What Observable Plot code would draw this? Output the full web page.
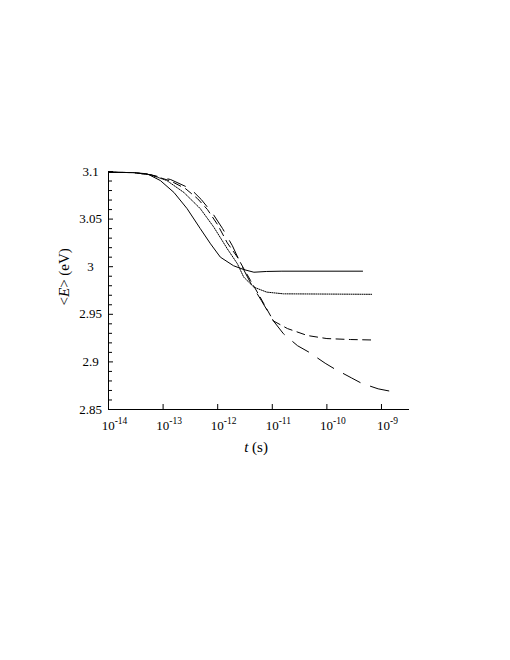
<!DOCTYPE html>
<html><head><meta charset="utf-8">
<script src="https://cdn.jsdelivr.net/npm/d3@7"></script>
<script src="https://cdn.jsdelivr.net/npm/@observablehq/plot@0.6"></script>
<style>body{margin:0;background:#fff;} svg{display:block;} svg text{font-family:'Liberation Serif','Times New Roman',serif;}</style>
</head><body><div id="chart"></div>
<script>
// ---- data (t in seconds, <E> in eV) ----
const solidT = [1e-14, 2.9e-14, 5.1e-14, 8.9e-14, 1.58e-13, 2.75e-13, 4.8e-13, 7.4e-13, 1.12e-12, 1.95e-12, 3.0e-12, 4.6e-12, 7.9e-12, 1.5e-11, 4.5e-10];
const solidE = [3.0993, 3.0988, 3.0976, 3.0905, 3.0780, 3.0610, 3.0400, 3.0240, 3.0100, 3.0010, 2.9970, 2.9942, 2.9950, 2.9953, 2.9953];

const dottedT = [1e-14, 2.9e-14, 5.9e-14, 1.17e-13, 2.4e-13, 4.8e-13, 8.5e-13, 1.5e-12, 2.3e-12, 3.0e-12, 4.6e-12, 7.9e-12, 1.6e-11, 6.6e-10];
const dottedE = [3.0993, 3.0988, 3.0965, 3.0905, 3.0780, 3.0610, 3.0415, 3.0188, 3.0030, 2.9890, 2.9785, 2.9733, 2.9715, 2.9710];

const shortDashT = [1e-14, 2.9e-14, 5.9e-14, 1.38e-13, 2.57e-13, 4.27e-13, 6.5e-13, 1.0e-12, 1.5e-12, 2.3e-12, 3.0e-12, 4.0e-12, 6.0e-12, 1.05e-11, 1.9e-11, 4.4e-11, 1.0e-10, 2.7e-10, 7.1e-10];
const shortDashE = [3.0993, 3.0988, 3.0966, 3.0900, 3.0820, 3.0715, 3.0600, 3.0440, 3.0250, 3.0100, 2.9980, 2.9855, 2.9680, 2.9430, 2.9350, 2.9277, 2.9245, 2.9235, 2.9230];

const longDashT = [1e-14, 2.9e-14, 5.9e-14, 1.38e-13, 3.16e-13, 5.0e-13, 8.3e-13, 1.23e-12, 1.86e-12, 2.75e-12, 4.0e-12, 6.3e-12, 1.05e-11, 1.6e-11, 2.9e-11, 4.7e-11, 9.3e-11, 1.38e-10, 2.8e-10, 4.3e-10, 8.7e-10, 1.45e-9];
const longDashE = [3.0993, 3.0988, 3.0966, 3.0915, 3.0820, 3.0706, 3.0550, 3.0400, 3.0220, 3.0010, 2.9830, 2.9645, 2.9430, 2.9296, 2.9170, 2.9102, 2.8986, 2.8927, 2.8833, 2.8776, 2.8717, 2.8692];

const xDomain = [1e-14, 3.26e-9];
const yDomain = [2.85, 3.1];
const xTicks = [1e-14, 1e-13, 1e-12, 1e-11, 1e-10, 1e-9];
const xTickLabels = ["10^-14", "10^-13", "10^-12", "10^-11", "10^-10", "10^-9"];
const yTicks = [2.85, 2.9, 2.95, 3, 3.05, 3.1];
const yTickLabels = ["2.85", "2.9", "2.95", "3", "3.05", "3.1"];
const yMinorTicks = [2.86, 2.87, 2.88, 2.89, 2.91, 2.92, 2.93, 2.94, 2.96, 2.97, 2.98, 2.99, 3.01, 3.02, 3.03, 3.04, 3.06, 3.07, 3.08, 3.09];
const xTitle = "t (s)";
const yTitle = "<E> (eV)";

const toRows = (T, E) => T.map((t, i) => ({t, e: E[i]}));
const series = [
  {rows: toRows(solidT, solidE), dash: null},
  {rows: toRows(dottedT, dottedE), dash: "1,1.2"},
  {rows: toRows(shortDashT, shortDashE), dash: "8,5.3"},
  {rows: toRows(longDashT, longDashE), dash: "19,11"}
];

const FONT = "'Liberation Serif', 'Times New Roman', serif";
const W = 510, H = 660;
const mL = 108, mR = 101, mT = 171, mB = 251;
const innerW = W - mL - mR, innerH = H - mT - mB;

const plot = Plot.plot({
  width: W, height: H,
  marginLeft: mL, marginRight: mR, marginTop: mT, marginBottom: mB,
  style: {fontFamily: FONT, fontSize: "13px", color: "#000", background: "#fff", overflow: "visible"},
  x: {type: "log", domain: xDomain, axis: null},
  y: {domain: yDomain, axis: null},
  marks: [
    // axis lines
    Plot.ruleY([yDomain[0]], {stroke: "#000", strokeWidth: 1}),
    Plot.ruleX([xDomain[0]], {stroke: "#000", strokeWidth: 1}),
    // inward ticks
    Plot.ruleX(xTicks, {x: d => d, insetTop: innerH - 5, stroke: "#000"}),
    Plot.ruleY(yTicks, {y: d => d, insetRight: innerW - 5, stroke: "#000"}),
    Plot.ruleY(yMinorTicks, {y: d => d, insetRight: innerW - 4, stroke: "#000"}),
    // tick labels
    Plot.text(xTicks, {x: d => d, frameAnchor: "bottom", dy: 20, dx: 6, text: (d, i) => xTickLabels[i], textAnchor: "middle", fontSize: 13, fontFamily: FONT, fill: "#000"}),
    Plot.text(yTicks, {y: d => d, frameAnchor: "left", dx: -18, text: (d, i) => yTickLabels[i], textAnchor: "middle", fontSize: 13, fontFamily: FONT, fill: "#000"}),
    // axis titles
    Plot.text([xTitle], {frameAnchor: "bottom", dy: 42, dx: -3, text: d => d, fontSize: 15, fontFamily: FONT, fill: "#000"}),
    Plot.text([yTitle], {frameAnchor: "left", dx: -44, dy: 15, rotate: -90, text: d => d, fontSize: 15, fontFamily: FONT, fill: "#000"}),
    // curves
    ...series.map(s => Plot.line(s.rows, {x: "t", y: "e", stroke: "#000", strokeWidth: 1, strokeDasharray: s.dash, curve: "linear"}))
  ]
});

const ns = "http://www.w3.org/2000/svg";
function rich(el, parts) {
  while (el.firstChild) el.removeChild(el.firstChild);
  for (const p of parts) {
    const ts = document.createElementNS(ns, "tspan");
    ts.textContent = p.t;
    if (p.italic) ts.setAttribute("font-style", "italic");
    if (p.sup) { ts.setAttribute("font-size", "9.5px"); ts.setAttribute("dy", "-0.55em"); }
    el.appendChild(ts);
  }
}
plot.setAttribute("font-family", FONT);
plot.querySelectorAll("text").forEach(el => {
  const s = el.textContent;
  if (xTickLabels.includes(s)) {
    const [base, exp] = s.split("^");
    rich(el, [{t: base}, {t: exp, sup: true}]);
  } else if (s === xTitle) {
    rich(el, [{t: s.slice(0, 1), italic: true}, {t: s.slice(1)}]);
  } else if (s === yTitle) {
    rich(el, [{t: s.slice(0, 1)}, {t: s.slice(1, 2), italic: true}, {t: s.slice(2)}]);
  }
});
document.getElementById("chart").appendChild(plot);
</script>
</body></html>
